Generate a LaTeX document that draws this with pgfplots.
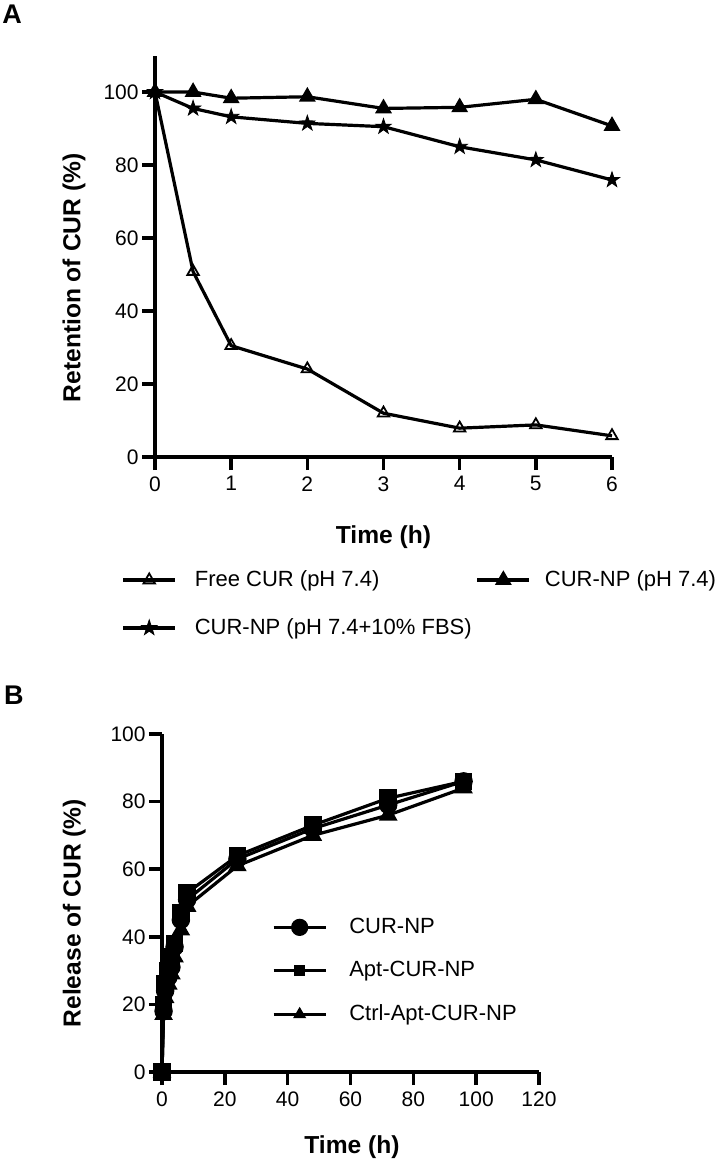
\documentclass[border=0pt]{standalone}
\usepackage{fontspec}
\setmainfont{Liberation Sans}
\usepackage{pgfplots}
\pgfplotsset{compat=1.18}
\usetikzlibrary{plotmarks}

\pgfdeclareplotmark{fstar}{%
  \pgfpathmoveto{\pgfpointpolar{90}{1.3\pgfplotmarksize}}%
  \pgfpathlineto{\pgfpointpolar{126}{0.5\pgfplotmarksize}}%
  \pgfpathlineto{\pgfpointpolar{162}{1.3\pgfplotmarksize}}%
  \pgfpathlineto{\pgfpointpolar{198}{0.5\pgfplotmarksize}}%
  \pgfpathlineto{\pgfpointpolar{234}{1.3\pgfplotmarksize}}%
  \pgfpathlineto{\pgfpointpolar{270}{0.5\pgfplotmarksize}}%
  \pgfpathlineto{\pgfpointpolar{306}{1.3\pgfplotmarksize}}%
  \pgfpathlineto{\pgfpointpolar{342}{0.5\pgfplotmarksize}}%
  \pgfpathlineto{\pgfpointpolar{18}{1.3\pgfplotmarksize}}%
  \pgfpathlineto{\pgfpointpolar{54}{0.5\pgfplotmarksize}}%
  \pgfpathclose\pgfusepathqfillstroke}

\newcommand\tickfont{\fontsize{10.5}{11}\selectfont}
\newcommand\labfont{\bfseries\fontsize{12.3}{13}\selectfont}
\newcommand\legfont{\fontsize{11}{12}\selectfont}

\pgfplotsset{
  gpstyle/.style={
    scale only axis, axis lines=left, axis line style={line width=2.1pt,-},
    tick align=outside, major tick length=6.5pt,
    tick style={line width=1.8pt,black},
    xtick pos=left, ytick pos=left,
    ticklabel style={font=\tickfont, inner sep=1.5pt},
    xticklabel style={yshift=-1.5pt},
    /pgf/number format/assume math mode=true,
    label style={font=\labfont},
    clip=false,
    legend cell align=left,
    legend image code/.code={\draw[mark repeat=2,mark phase=2] plot coordinates {(0pt,0pt) (13pt,0pt) (26pt,0pt)};},
  }
}

\pgfplotstableread{
t   free  np    fbs
0   100   100   100
0.5 50.8  100   95.5
1   30.5  98.3  93.2
2   24.1  98.7  91.4
3   12.0  95.5  90.5
4   7.9   95.8  85.0
5   8.8   98.0  81.4
6   5.8   90.7  75.9
}\tableA

\pgfplotstableread{
t    np   apt  ctrl
0    0    0    0
0.5  18   20   17
1    24   26   22
2    28   30   26
3    31   34   29
4    37   38   34
6    45   47   42
8    51   53   49
24   63   64   61
48   72   73   70
72   79   81   76
96   86   86   84
}\tableB

\begin{document}
\begin{tikzpicture}
\path[use as bounding box] (0,0) rectangle (362.5pt,-581pt);
\node[font=\bfseries\fontsize{13.5}{14}\selectfont] at (6pt,-7pt) {A};
\node[font=\bfseries\fontsize{13.5}{14}\selectfont] at (7pt,-347.5pt) {B};

\begin{axis}[gpstyle,
  at={(77.5pt,-228.5pt)}, anchor=south west,
  width=228.5pt, height=200.75pt,
  xmin=0, xmax=6, ymin=0, ymax=110,
  xtick={0,1,...,6}, ytick={0,20,...,100},
  xlabel={Time (h)}, ylabel={Retention of CUR (\%)},
  xlabel style={at={(axis description cs:0.5,-0.199)}, anchor=center},
  ylabel style={at={(axis description cs:-0.177,0.446)}, anchor=center},
  legend columns=2,
  legend style={at={(axis description cs:-0.087,-0.262)}, anchor=north west,
    draw=none, fill=none, font=\legfont, row sep=10.5pt,
    /tikz/column 1/.style={column sep=7pt},
    /tikz/column 2/.style={column sep=0pt},
    /tikz/column 3/.style={column sep=5pt}},
]
\addplot[black, line width=1.6pt, mark=triangle, mark size=3.3pt, mark options={solid, fill=white, line width=0.9pt}] table[x=t,y=free] {\tableA};
\addlegendentry{Free CUR (pH 7.4)}
\addplot[black, line width=1.6pt, mark=triangle*, mark size=3.3pt, mark options={solid, fill=black}] table[x=t,y=np] {\tableA};
\addlegendentry{CUR-NP (pH 7.4)}
\addplot[black, line width=1.6pt, mark=fstar, mark size=3.1pt, mark options={solid, fill=black, line width=0.4pt}] table[x=t,y=fbs] {\tableA};
\addlegendentry{CUR-NP (pH 7.4+10\% FBS)}
\end{axis}

\begin{axis}[gpstyle,
  at={(81pt,-536pt)}, anchor=south west,
  width=188.5pt, height=169pt,
  xmin=0, xmax=120, ymin=0, ymax=100,
  xtick={0,20,...,120}, ytick={0,20,...,100},
  xlabel={Time (h)}, ylabel={Release of CUR (\%)},
  xlabel style={at={(axis description cs:0.504,-0.222)}, anchor=center},
  ylabel style={at={(axis description cs:-0.233,0.47)}, anchor=center},
  legend style={at={(axis description cs:0.275,0.48)}, anchor=north west,
    draw=none, fill=none, font=\legfont, row sep=8.5pt,
    /tikz/every odd column/.append style={column sep=9pt}},
]
\addplot[black, line width=1.6pt, mark=*, mark size=3.8pt, mark options={solid}, forget plot] table[x=t,y=np] {\tableB};
\addplot[black, line width=1.6pt, mark=square*, mark size=3.6pt, mark options={solid}, forget plot] table[x=t,y=apt] {\tableB};
\addplot[black, line width=1.6pt, mark=triangle*, mark size=3.8pt, mark options={solid}, forget plot] table[x=t,y=ctrl] {\tableB};
\addlegendimage{black, line width=1.6pt, mark=*, mark size=3.5pt, mark options={solid}}
\addlegendentry{CUR-NP}
\addlegendimage{black, line width=1.6pt, mark=square*, mark size=2pt, mark options={solid}}
\addlegendentry{Apt-CUR-NP}
\addlegendimage{black, line width=1.6pt, mark=triangle*, mark size=2.2pt, mark options={solid}}
\addlegendentry{Ctrl-Apt-CUR-NP}
\end{axis}
\end{tikzpicture}
\end{document}
